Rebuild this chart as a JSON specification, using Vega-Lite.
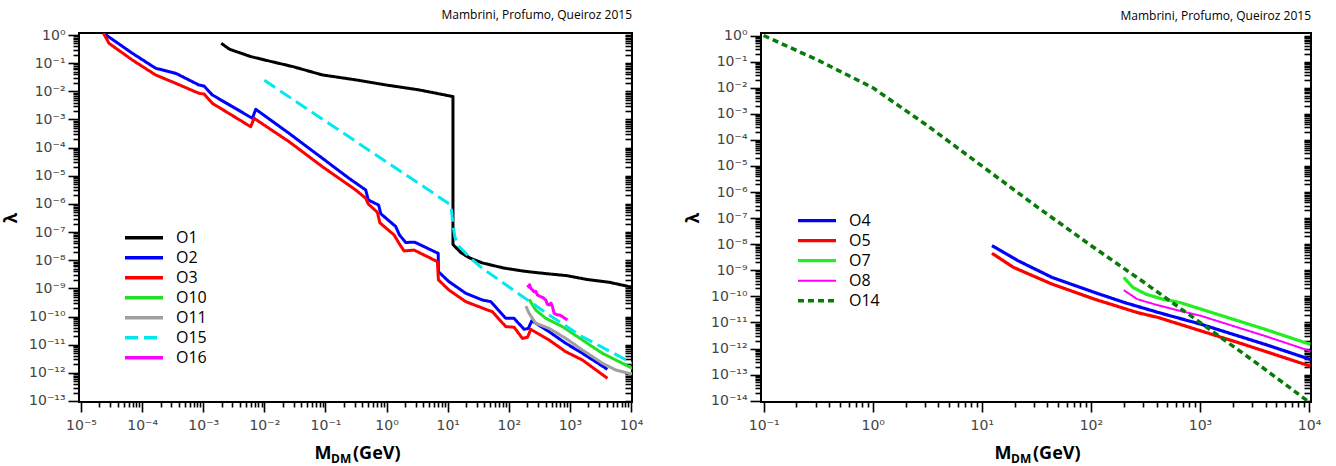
{
  "$schema": "https://vega.github.io/schema/vega-lite/v6.json",
  "background": "white",
  "padding": {"left": 1, "top": 8, "right": 20, "bottom": 2},
  "spacing": 39,
  "config": {
    "view": {"stroke": "#000", "strokeWidth": 2},
    "axis": {"grid": false, "domain": false, "tickSize": 5, "labelFont": "DejaVu Sans", "labelFontSize": 14, "labelColor": "#444", "tickColor": "#000", "tickWidth": 1.6, "tickOpacity": 1, "titleFont": "Open Sans", "titleColor": "#000", "labelFlush": false, "labelOverlap": false},
    "title": {"font": "Open Sans", "fontSize": 12, "fontWeight": "normal", "color": "#000", "anchor": "end", "frame": "group", "offset": 6, "baseline": "alphabetic"}
  },
  "resolve": {"scale": {"color": "independent", "strokeDash": "independent", "strokeWidth": "independent"}},
  "hconcat": [
    {
      "width": 553,
      "height": 369,
      "title": {"text": "Mambrini, Profumo, Queiroz 2015"},
      "data": {"values": [
        {"s":"O1","x":0.00197,"y":0.507,"i":1},
        {"s":"O1","x":0.00271,"y":0.31,"i":2},
        {"s":"O1","x":0.006,"y":0.171,"i":3},
        {"s":"O1","x":0.0132,"y":0.113,"i":4},
        {"s":"O1","x":0.0293,"y":0.0753,"i":5},
        {"s":"O1","x":0.089,"y":0.0382,"i":6},
        {"s":"O1","x":0.316,"y":0.0254,"i":7},
        {"s":"O1","x":0.96,"y":0.0169,"i":8},
        {"s":"O1","x":3.42,"y":0.0112,"i":9},
        {"s":"O1","x":12.2,"y":0.0065,"i":10},
        {"s":"O1","x":12.2,"y":3.6e-8,"i":11},
        {"s":"O1","x":16.7,"y":1.81e-8,"i":12},
        {"s":"O1","x":23.0,"y":1.2e-8,"i":13},
        {"s":"O1","x":37.0,"y":8.0e-9,"i":14},
        {"s":"O1","x":81.7,"y":5.3e-9,"i":15},
        {"s":"O1","x":181,"y":4.05e-9,"i":16},
        {"s":"O1","x":400,"y":3.35e-9,"i":17},
        {"s":"O1","x":883,"y":2.84e-9,"i":18},
        {"s":"O1","x":1954,"y":2.05e-9,"i":19},
        {"s":"O1","x":4325,"y":1.66e-9,"i":20},
        {"s":"O1","x":10300,"y":1.1e-9,"i":21},
        {"s":"O2","x":2.34e-5,"y":1.15,"i":22},
        {"s":"O2","x":6.92e-5,"y":0.224,"i":23},
        {"s":"O2","x":1.67e-4,"y":0.0656,"i":24},
        {"s":"O2","x":3.55e-4,"y":0.0436,"i":25},
        {"s":"O2","x":8.53e-4,"y":0.0167,"i":26},
        {"s":"O2","x":1.03e-3,"y":0.0154,"i":27},
        {"s":"O2","x":1.41e-3,"y":7.4e-3,"i":28},
        {"s":"O2","x":6.37e-3,"y":1.1e-3,"i":29},
        {"s":"O2","x":7.23e-3,"y":2.29e-3,"i":30},
        {"s":"O2","x":0.0254,"y":3.21e-4,"i":31},
        {"s":"O2","x":0.0891,"y":4.17e-5,"i":32},
        {"s":"O2","x":0.243,"y":8.13e-6,"i":33},
        {"s":"O2","x":0.456,"y":3.12e-6,"i":34},
        {"s":"O2","x":0.501,"y":1.38e-6,"i":35},
        {"s":"O2","x":0.741,"y":9.12e-7,"i":36},
        {"s":"O2","x":0.804,"y":4.47e-7,"i":37},
        {"s":"O2","x":1.41,"y":1.58e-7,"i":38},
        {"s":"O2","x":1.62,"y":7.94e-8,"i":39},
        {"s":"O2","x":2.06,"y":4.27e-8,"i":40},
        {"s":"O2","x":2.88,"y":4.37e-8,"i":41},
        {"s":"O2","x":7.0,"y":1.75e-8,"i":42},
        {"s":"O2","x":7.05,"y":3.91e-9,"i":43},
        {"s":"O2","x":10.5,"y":1.73e-9,"i":44},
        {"s":"O2","x":19.8,"y":6.67e-10,"i":45},
        {"s":"O2","x":37.0,"y":3.85e-10,"i":46},
        {"s":"O2","x":50.8,"y":3.37e-10,"i":47},
        {"s":"O2","x":89.3,"y":8.63e-11,"i":48},
        {"s":"O2","x":122,"y":8.63e-11,"i":49},
        {"s":"O2","x":178,"y":3.51e-11,"i":50},
        {"s":"O2","x":209,"y":3.8e-11,"i":51},
        {"s":"O2","x":238,"y":7.1e-11,"i":52},
        {"s":"O2","x":457,"y":2.88e-11,"i":53},
        {"s":"O2","x":855,"y":1.12e-11,"i":54},
        {"s":"O2","x":1603,"y":4.93e-12,"i":55},
        {"s":"O2","x":4111,"y":1.33e-12,"i":56},
        {"s":"O3","x":2.34e-5,"y":1.15,"i":57},
        {"s":"O3","x":2.87e-5,"y":0.506,"i":58},
        {"s":"O3","x":6.92e-5,"y":0.129,"i":59},
        {"s":"O3","x":1.67e-4,"y":0.0379,"i":60},
        {"s":"O3","x":3.55e-4,"y":0.0192,"i":61},
        {"s":"O3","x":8.53e-4,"y":8.47e-3,"i":62},
        {"s":"O3","x":1.03e-3,"y":8.02e-3,"i":63},
        {"s":"O3","x":1.41e-3,"y":3.74e-3,"i":64},
        {"s":"O3","x":5.98e-3,"y":5.53e-4,"i":65},
        {"s":"O3","x":6.79e-3,"y":1.1e-3,"i":66},
        {"s":"O3","x":0.0254,"y":1.62e-4,"i":67},
        {"s":"O3","x":0.0891,"y":2.1e-5,"i":68},
        {"s":"O3","x":0.313,"y":3.12e-6,"i":69},
        {"s":"O3","x":0.456,"y":1.58e-6,"i":70},
        {"s":"O3","x":0.501,"y":1.0e-6,"i":71},
        {"s":"O3","x":0.708,"y":5.01e-7,"i":72},
        {"s":"O3","x":0.776,"y":2.14e-7,"i":73},
        {"s":"O3","x":1.33,"y":7.85e-8,"i":74},
        {"s":"O3","x":1.6,"y":3.98e-8,"i":75},
        {"s":"O3","x":1.93,"y":2.14e-8,"i":76},
        {"s":"O3","x":2.82,"y":2.29e-8,"i":77},
        {"s":"O3","x":6.79,"y":8.91e-9,"i":78},
        {"s":"O3","x":7.05,"y":2.0e-9,"i":79},
        {"s":"O3","x":10.5,"y":8.71e-10,"i":80},
        {"s":"O3","x":19.8,"y":3.37e-10,"i":81},
        {"s":"O3","x":42.0,"y":1.8e-10,"i":82},
        {"s":"O3","x":54.0,"y":1.48e-10,"i":83},
        {"s":"O3","x":89.3,"y":4.37e-11,"i":84},
        {"s":"O3","x":122,"y":4.17e-11,"i":85},
        {"s":"O3","x":167,"y":1.67e-11,"i":86},
        {"s":"O3","x":202,"y":1.82e-11,"i":87},
        {"s":"O3","x":229,"y":3.51e-11,"i":88},
        {"s":"O3","x":457,"y":1.46e-11,"i":89},
        {"s":"O3","x":855,"y":5.62e-12,"i":90},
        {"s":"O3","x":1603,"y":2.85e-12,"i":91},
        {"s":"O3","x":4111,"y":6.38e-13,"i":92},
        {"s":"O10","x":215,"y":4.07e-10,"i":93},
        {"s":"O10","x":276,"y":1.7e-10,"i":94},
        {"s":"O10","x":403,"y":8.63e-11,"i":95},
        {"s":"O10","x":755,"y":4.37e-11,"i":96},
        {"s":"O10","x":1603,"y":1.46e-11,"i":97},
        {"s":"O10","x":3404,"y":4.93e-12,"i":98},
        {"s":"O10","x":10500,"y":1.45e-12,"i":99},
        {"s":"O11","x":190,"y":2.36e-10,"i":100},
        {"s":"O11","x":215,"y":1.3e-10,"i":101},
        {"s":"O11","x":276,"y":5.73e-11,"i":102},
        {"s":"O11","x":457,"y":3.8e-11,"i":103},
        {"s":"O11","x":855,"y":1.67e-11,"i":104},
        {"s":"O11","x":1603,"y":6.46e-12,"i":105},
        {"s":"O11","x":3404,"y":2.19e-12,"i":106},
        {"s":"O11","x":5623,"y":1.26e-12,"i":107},
        {"s":"O11","x":9311,"y":9.55e-13,"i":108},
        {"s":"O11","x":10500,"y":9.3e-13,"i":109},
        {"s":"O15","x":0.01,"y":0.0245,"i":110},
        {"s":"O15","x":11.0,"y":9.55e-7,"i":111},
        {"s":"O15","x":11.5,"y":6.31e-7,"i":112},
        {"s":"O15","x":12.3,"y":1.58e-7,"i":113},
        {"s":"O15","x":13.2,"y":6.31e-8,"i":114},
        {"s":"O15","x":15.5,"y":3.02e-8,"i":115},
        {"s":"O15","x":25.4,"y":1.02e-8,"i":116},
        {"s":"O15","x":37.0,"y":5.13e-9,"i":117},
        {"s":"O15","x":130,"y":7.59e-10,"i":118},
        {"s":"O15","x":457,"y":1.13e-10,"i":119},
        {"s":"O15","x":1603,"y":1.91e-11,"i":120},
        {"s":"O15","x":10500,"y":2.19e-12,"i":121},
        {"s":"O16","x":202,"y":1.32e-9,"i":122},
        {"s":"O16","x":214,"y":1.12e-9,"i":123},
        {"s":"O16","x":219,"y":1.35e-9,"i":124},
        {"s":"O16","x":229,"y":1.0e-9,"i":125},
        {"s":"O16","x":245,"y":8.71e-10,"i":126},
        {"s":"O16","x":259,"y":7.59e-10,"i":127},
        {"s":"O16","x":275,"y":7.94e-10,"i":128},
        {"s":"O16","x":294,"y":5.81e-10,"i":129},
        {"s":"O16","x":333,"y":5.06e-10,"i":130},
        {"s":"O16","x":363,"y":4.68e-10,"i":131},
        {"s":"O16","x":403,"y":3.85e-10,"i":132},
        {"s":"O16","x":427,"y":2.75e-10,"i":133},
        {"s":"O16","x":457,"y":2.57e-10,"i":134},
        {"s":"O16","x":490,"y":3.02e-10,"i":135},
        {"s":"O16","x":518,"y":2.24e-10,"i":136},
        {"s":"O16","x":551,"y":1.3e-10,"i":137},
        {"s":"O16","x":625,"y":1.13e-10,"i":138},
        {"s":"O16","x":692,"y":1.12e-10,"i":139},
        {"s":"O16","x":755,"y":9.86e-11,"i":140},
        {"s":"O16","x":910,"y":7.52e-11,"i":141}
      ]},
      "resolve": {"axis": {"x": "independent", "y": "independent"}},
      "layer": [
        {
          "mark": {"type": "line", "clip": true, "strokeWidth": 3, "strokeJoin": "round"},
          "encoding": {
            "x": {"field": "x", "type": "quantitative", "scale": {"type": "log", "domain": [9.27e-6, 10370], "nice": false},
              "axis": {"orient": "bottom",
                "values": [0.00001,2e-5,3e-5,4e-5,5e-5,6e-5,7e-5,8e-5,9e-5,0.0001,2e-4,3e-4,4e-4,5e-4,6e-4,7e-4,8e-4,9e-4,0.001,2e-3,3e-3,4e-3,5e-3,6e-3,7e-3,8e-3,9e-3,0.01,0.02,0.03,0.04,0.05,0.06,0.07,0.08,0.09,0.1,0.2,0.3,0.4,0.5,0.6,0.7,0.8,0.9,1,2,3,4,5,6,7,8,9,10,20,30,40,50,60,70,80,90,100,200,300,400,500,600,700,800,900,1000,2000,3000,4000,5000,6000,7000,8000,9000,10000],
                "tickSize": {"condition": {"test": "abs(log(datum.value)/LN10 - round(log(datum.value)/LN10)) < 0.001", "value": 10}, "value": 5},
                "labelPadding": 6,
                "labelExpr": "abs(log(datum.value)/LN10 - round(log(datum.value)/LN10)) < 0.001 ? '10' + (datum.value < 0.5 ? '⁻' : '') + (abs(round(log(datum.value)/LN10)) >= 10 ? '¹' : '') + ['⁰','¹','²','³','⁴','⁵','⁶','⁷','⁸','⁹'][abs(round(log(datum.value)/LN10)) % 10] : ''",
                "title": "M", "titleFontSize": 18, "titleFontWeight": "bold", "titleX": 235, "titleY": 56, "titleAlign": "left", "titleBaseline": "alphabetic"}},
            "y": {"field": "y", "type": "quantitative", "scale": {"type": "log", "domain": [9.2e-14, 1.178], "nice": false},
              "axis": {"orient": "left",
                "values": [1,0.9,0.8,0.7,0.6,0.5,0.4,0.3,0.2,0.1,0.09,0.08,0.07,0.06,0.05,0.04,0.03,0.02,0.01,9e-3,8e-3,7e-3,6e-3,5e-3,4e-3,3e-3,2e-3,0.001,9e-4,8e-4,7e-4,6e-4,5e-4,4e-4,3e-4,2e-4,0.0001,9e-5,8e-5,7e-5,6e-5,5e-5,4e-5,3e-5,2e-5,1e-5,9e-6,8e-6,7e-6,6e-6,5e-6,4e-6,3e-6,2e-6,1e-6,9e-7,8e-7,7e-7,6e-7,5e-7,4e-7,3e-7,2e-7,1e-7,9e-8,8e-8,7e-8,6e-8,5e-8,4e-8,3e-8,2e-8,1e-8,9e-9,8e-9,7e-9,6e-9,5e-9,4e-9,3e-9,2e-9,1e-9,9e-10,8e-10,7e-10,6e-10,5e-10,4e-10,3e-10,2e-10,1e-10,9e-11,8e-11,7e-11,6e-11,5e-11,4e-11,3e-11,2e-11,1e-11,9e-12,8e-12,7e-12,6e-12,5e-12,4e-12,3e-12,2e-12,1e-12,9e-13,8e-13,7e-13,6e-13,5e-13,4e-13,3e-13,2e-13,1e-13],
                "tickSize": {"condition": {"test": "abs(log(datum.value)/LN10 - round(log(datum.value)/LN10)) < 0.001", "value": 11}, "value": 6},
                "labelPadding": 3,
                "labelExpr": "abs(log(datum.value)/LN10 - round(log(datum.value)/LN10)) < 0.001 ? '10' + (datum.value < 0.5 ? '⁻' : '') + (abs(round(log(datum.value)/LN10)) >= 10 ? '¹' : '') + ['⁰','¹','²','³','⁴','⁵','⁶','⁷','⁸','⁹'][abs(round(log(datum.value)/LN10)) % 10] : ''",
                "title": "λ", "titleFontSize": 17, "titleFontWeight": "bold", "titlePadding": 8}},
            "color": {"field": "s", "type": "nominal",
              "scale": {"domain": ["O1","O2","O3","O10","O11","O15","O16"], "range": ["#000000","#0000ff","#ff0000","#22e022","#a0a0a0","#00e8f0","#ff00ff"]},
              "legend": {"title": null, "orient": "none", "legendX": 44, "legendY": 195, "symbolType": "stroke", "symbolSize": 1444, "symbolStrokeWidth": 3.5, "labelFont": "Open Sans", "labelFontSize": 16, "labelColor": "#000", "labelOffset": 11, "clipHeight": 19.5, "rowPadding": 0, "padding": 0}},
            "strokeDash": {"field": "s", "type": "nominal",
              "scale": {"domain": ["O1","O2","O3","O10","O11","O15","O16"], "range": [[1,0],[1,0],[1,0],[1,0],[1,0],[13,6],[1,0]]},
              "legend": {"title": null, "orient": "none", "legendX": 44, "legendY": 195, "symbolType": "stroke", "symbolSize": 1444, "symbolStrokeWidth": 3.5, "labelFont": "Open Sans", "labelFontSize": 16, "labelColor": "#000", "labelOffset": 11, "clipHeight": 19.5, "rowPadding": 0, "padding": 0}},
            "order": {"field": "i", "type": "quantitative"}
          }
        },
        {
          "mark": {"type": "point", "opacity": 0},
          "encoding": {
            "x": {"field": "x", "type": "quantitative", "scale": {"type": "log", "domain": [9.27e-6, 10370], "nice": false},
              "axis": {"orient": "bottom", "ticks": false, "labels": false, "values": [1],
                "title": "DM", "titleFontSize": 12, "titleFontWeight": "bold", "titleX": 251.5, "titleY": 60, "titleAlign": "left", "titleBaseline": "alphabetic"}},
            "y": {"field": "y", "type": "quantitative", "scale": {"type": "log", "domain": [9.2e-14, 1.178], "nice": false},
              "axis": {"orient": "right", "offset": -7, "tickSize": 7, "labelExpr": "''", "title": null,
                "values": [1,0.9,0.8,0.7,0.6,0.5,0.4,0.3,0.2,0.1,0.09,0.08,0.07,0.06,0.05,0.04,0.03,0.02,0.01,9e-3,8e-3,7e-3,6e-3,5e-3,4e-3,3e-3,2e-3,0.001,9e-4,8e-4,7e-4,6e-4,5e-4,4e-4,3e-4,2e-4,0.0001,9e-5,8e-5,7e-5,6e-5,5e-5,4e-5,3e-5,2e-5,1e-5,9e-6,8e-6,7e-6,6e-6,5e-6,4e-6,3e-6,2e-6,1e-6,9e-7,8e-7,7e-7,6e-7,5e-7,4e-7,3e-7,2e-7,1e-7,9e-8,8e-8,7e-8,6e-8,5e-8,4e-8,3e-8,2e-8,1e-8,9e-9,8e-9,7e-9,6e-9,5e-9,4e-9,3e-9,2e-9,1e-9,9e-10,8e-10,7e-10,6e-10,5e-10,4e-10,3e-10,2e-10,1e-10,9e-11,8e-11,7e-11,6e-11,5e-11,4e-11,3e-11,2e-11,1e-11,9e-12,8e-12,7e-12,6e-12,5e-12,4e-12,3e-12,2e-12,1e-12,9e-13,8e-13,7e-13,6e-13,5e-13,4e-13,3e-13,2e-13,1e-13]}}
          }
        },
        {
          "mark": {"type": "point", "opacity": 0},
          "encoding": {
            "x": {"field": "x", "type": "quantitative", "scale": {"type": "log", "domain": [9.27e-6, 10370], "nice": false},
              "axis": {"orient": "bottom", "ticks": false, "labels": false, "values": [1], "title": "(GeV)", "titleFontSize": 18, "titleFontWeight": "bold", "titleX": 273.5, "titleY": 56, "titleAlign": "left", "titleBaseline": "alphabetic"}},
            "y": {"field": "y", "type": "quantitative", "scale": {"type": "log", "domain": [9.2e-14, 1.178], "nice": false}, "axis": null}
          }
        }
      ]
    },
    {
      "width": 550,
      "height": 369,
      "title": {"text": "Mambrini, Profumo, Queiroz 2015"},
      "data": {"values": [
        {"s":"O4","x":12.4,"y":8.85e-9,"i":1},
        {"s":"O4","x":17.9,"y":3.65e-9,"i":2},
        {"s":"O4","x":21.4,"y":2.34e-9,"i":3},
        {"s":"O4","x":44.0,"y":5.33e-10,"i":4},
        {"s":"O4","x":108,"y":1.41e-10,"i":5},
        {"s":"O4","x":203,"y":5.81e-11,"i":6},
        {"s":"O4","x":417,"y":2.39e-11,"i":7},
        {"s":"O4","x":1026,"y":8.49e-12,"i":8},
        {"s":"O4","x":2523,"y":2.6e-12,"i":9},
        {"s":"O4","x":3954,"y":1.44e-12,"i":10},
        {"s":"O4","x":10300,"y":3.8e-13,"i":11},
        {"s":"O5","x":12.4,"y":4.49e-9,"i":12},
        {"s":"O5","x":19.5,"y":1.29e-9,"i":13},
        {"s":"O5","x":44.0,"y":2.95e-10,"i":14},
        {"s":"O5","x":108,"y":7.8e-11,"i":15},
        {"s":"O5","x":266,"y":2.39e-11,"i":16},
        {"s":"O5","x":417,"y":1.53e-11,"i":17},
        {"s":"O5","x":1026,"y":4.7e-12,"i":18},
        {"s":"O5","x":2523,"y":1.44e-12,"i":19},
        {"s":"O5","x":10300,"y":2.1e-13,"i":20},
        {"s":"O7","x":200,"y":5.33e-10,"i":21},
        {"s":"O7","x":243,"y":2.2e-10,"i":22},
        {"s":"O7","x":318,"y":1.22e-10,"i":23},
        {"s":"O7","x":456,"y":7.8e-11,"i":24},
        {"s":"O7","x":653,"y":5.81e-11,"i":25},
        {"s":"O7","x":1026,"y":3.21e-11,"i":26},
        {"s":"O7","x":1607,"y":1.78e-11,"i":27},
        {"s":"O7","x":3954,"y":5.45e-12,"i":28},
        {"s":"O7","x":10300,"y":1.44e-12,"i":29},
        {"s":"O8","x":200,"y":1.73e-10,"i":30},
        {"s":"O8","x":266,"y":7.8e-11,"i":31},
        {"s":"O8","x":381,"y":5.01e-11,"i":32},
        {"s":"O8","x":653,"y":2.77e-11,"i":33},
        {"s":"O8","x":1026,"y":1.78e-11,"i":34},
        {"s":"O8","x":1607,"y":9.84e-12,"i":35},
        {"s":"O8","x":3954,"y":3.02e-12,"i":36},
        {"s":"O8","x":10300,"y":7.96e-13,"i":37},
        {"s":"O14","x":0.1,"y":1.0,"i":38},
        {"s":"O14","x":0.316,"y":0.112,"i":39},
        {"s":"O14","x":1,"y":0.01,"i":40},
        {"s":"O14","x":3.16,"y":3.55e-4,"i":41},
        {"s":"O14","x":10,"y":1.0e-5,"i":42},
        {"s":"O14","x":31.6,"y":2.82e-7,"i":43},
        {"s":"O14","x":100,"y":8.91e-9,"i":44},
        {"s":"O14","x":316,"y":3.16e-10,"i":45},
        {"s":"O14","x":1000,"y":1.0e-11,"i":46},
        {"s":"O14","x":3162,"y":3.16e-13,"i":47},
        {"s":"O14","x":10000,"y":8.9e-15,"i":48}
      ]},
      "resolve": {"axis": {"x": "independent", "y": "independent"}},
      "layer": [
        {
          "mark": {"type": "line", "clip": true, "strokeJoin": "round"},
          "encoding": {
            "x": {"field": "x", "type": "quantitative", "scale": {"type": "log", "domain": [0.0946, 10420], "nice": false},
              "axis": {"orient": "bottom",
                "values": [0.1,0.2,0.3,0.4,0.5,0.6,0.7,0.8,0.9,1,2,3,4,5,6,7,8,9,10,20,30,40,50,60,70,80,90,100,200,300,400,500,600,700,800,900,1000,2000,3000,4000,5000,6000,7000,8000,9000,10000],
                "tickSize": {"condition": {"test": "abs(log(datum.value)/LN10 - round(log(datum.value)/LN10)) < 0.001", "value": 10}, "value": 5},
                "labelPadding": 6,
                "labelExpr": "abs(log(datum.value)/LN10 - round(log(datum.value)/LN10)) < 0.001 ? '10' + (datum.value < 0.5 ? '⁻' : '') + (abs(round(log(datum.value)/LN10)) >= 10 ? '¹' : '') + ['⁰','¹','²','³','⁴','⁵','⁶','⁷','⁸','⁹'][abs(round(log(datum.value)/LN10)) % 10] : ''",
                "title": "M", "titleFontSize": 18, "titleFontWeight": "bold", "titleX": 233, "titleY": 56, "titleAlign": "left", "titleBaseline": "alphabetic"}},
            "y": {"field": "y", "type": "quantitative", "scale": {"type": "log", "domain": [8.9e-15, 1.247], "nice": false},
              "axis": {"orient": "left",
                "values": [1,0.9,0.8,0.7,0.6,0.5,0.4,0.3,0.2,0.1,0.09,0.08,0.07,0.06,0.05,0.04,0.03,0.02,0.01,9e-3,8e-3,7e-3,6e-3,5e-3,4e-3,3e-3,2e-3,0.001,9e-4,8e-4,7e-4,6e-4,5e-4,4e-4,3e-4,2e-4,0.0001,9e-5,8e-5,7e-5,6e-5,5e-5,4e-5,3e-5,2e-5,1e-5,9e-6,8e-6,7e-6,6e-6,5e-6,4e-6,3e-6,2e-6,1e-6,9e-7,8e-7,7e-7,6e-7,5e-7,4e-7,3e-7,2e-7,1e-7,9e-8,8e-8,7e-8,6e-8,5e-8,4e-8,3e-8,2e-8,1e-8,9e-9,8e-9,7e-9,6e-9,5e-9,4e-9,3e-9,2e-9,1e-9,9e-10,8e-10,7e-10,6e-10,5e-10,4e-10,3e-10,2e-10,1e-10,9e-11,8e-11,7e-11,6e-11,5e-11,4e-11,3e-11,2e-11,1e-11,9e-12,8e-12,7e-12,6e-12,5e-12,4e-12,3e-12,2e-12,1e-12,9e-13,8e-13,7e-13,6e-13,5e-13,4e-13,3e-13,2e-13,1e-13,9e-14,8e-14,7e-14,6e-14,5e-14,4e-14,3e-14,2e-14,1e-14],
                "tickSize": {"condition": {"test": "abs(log(datum.value)/LN10 - round(log(datum.value)/LN10)) < 0.001", "value": 11}, "value": 6},
                "labelPadding": 3,
                "labelExpr": "abs(log(datum.value)/LN10 - round(log(datum.value)/LN10)) < 0.001 ? '10' + (datum.value < 0.5 ? '⁻' : '') + (abs(round(log(datum.value)/LN10)) >= 10 ? '¹' : '') + ['⁰','¹','²','³','⁴','⁵','⁶','⁷','⁸','⁹'][abs(round(log(datum.value)/LN10)) % 10] : ''",
                "title": "λ", "titleFontSize": 17, "titleFontWeight": "bold", "titlePadding": 8}},
            "color": {"field": "s", "type": "nominal",
              "scale": {"domain": ["O4","O5","O7","O8","O14"], "range": ["#0000ff","#ff0000","#22ee22","#ff00ff","#087a08"]},
              "legend": {"title": null, "orient": "none", "legendX": 35, "legendY": 178, "symbolType": "stroke", "symbolSize": 1444, "labelFont": "Open Sans", "labelFontSize": 16, "labelColor": "#000", "labelOffset": 11, "clipHeight": 19.3, "rowPadding": 0, "padding": 0}},
            "strokeDash": {"field": "s", "type": "nominal",
              "scale": {"domain": ["O4","O5","O7","O8","O14"], "range": [[1,0],[1,0],[1,0],[1,0],[6,4]]},
              "legend": {"title": null, "orient": "none", "legendX": 35, "legendY": 178, "symbolType": "stroke", "symbolSize": 1444, "labelFont": "Open Sans", "labelFontSize": 16, "labelColor": "#000", "labelOffset": 11, "clipHeight": 19.3, "rowPadding": 0, "padding": 0}},
            "strokeWidth": {"field": "s", "type": "nominal",
              "scale": {"type": "ordinal", "domain": ["O4","O5","O7","O8","O14"], "range": [3.2,3.2,3.2,2,3.5]},
              "legend": {"title": null, "orient": "none", "legendX": 35, "legendY": 178, "symbolType": "stroke", "symbolSize": 1444, "labelFont": "Open Sans", "labelFontSize": 16, "labelColor": "#000", "labelOffset": 11, "clipHeight": 19.3, "rowPadding": 0, "padding": 0}},
            "order": {"field": "i", "type": "quantitative"}
          }
        },
        {
          "mark": {"type": "point", "opacity": 0},
          "encoding": {
            "x": {"field": "x", "type": "quantitative", "scale": {"type": "log", "domain": [0.0946, 10420], "nice": false},
              "axis": {"orient": "bottom", "ticks": false, "labels": false, "values": [1],
                "title": "DM", "titleFontSize": 12, "titleFontWeight": "bold", "titleX": 249.5, "titleY": 60, "titleAlign": "left", "titleBaseline": "alphabetic"}},
            "y": {"field": "y", "type": "quantitative", "scale": {"type": "log", "domain": [8.9e-15, 1.247], "nice": false},
              "axis": {"orient": "right", "offset": -7, "tickSize": 7, "labelExpr": "''", "title": null,
                "values": [1,0.9,0.8,0.7,0.6,0.5,0.4,0.3,0.2,0.1,0.09,0.08,0.07,0.06,0.05,0.04,0.03,0.02,0.01,9e-3,8e-3,7e-3,6e-3,5e-3,4e-3,3e-3,2e-3,0.001,9e-4,8e-4,7e-4,6e-4,5e-4,4e-4,3e-4,2e-4,0.0001,9e-5,8e-5,7e-5,6e-5,5e-5,4e-5,3e-5,2e-5,1e-5,9e-6,8e-6,7e-6,6e-6,5e-6,4e-6,3e-6,2e-6,1e-6,9e-7,8e-7,7e-7,6e-7,5e-7,4e-7,3e-7,2e-7,1e-7,9e-8,8e-8,7e-8,6e-8,5e-8,4e-8,3e-8,2e-8,1e-8,9e-9,8e-9,7e-9,6e-9,5e-9,4e-9,3e-9,2e-9,1e-9,9e-10,8e-10,7e-10,6e-10,5e-10,4e-10,3e-10,2e-10,1e-10,9e-11,8e-11,7e-11,6e-11,5e-11,4e-11,3e-11,2e-11,1e-11,9e-12,8e-12,7e-12,6e-12,5e-12,4e-12,3e-12,2e-12,1e-12,9e-13,8e-13,7e-13,6e-13,5e-13,4e-13,3e-13,2e-13,1e-13,9e-14,8e-14,7e-14,6e-14,5e-14,4e-14,3e-14,2e-14,1e-14]}}
          }
        },
        {
          "mark": {"type": "point", "opacity": 0},
          "encoding": {
            "x": {"field": "x", "type": "quantitative", "scale": {"type": "log", "domain": [0.0946, 10420], "nice": false},
              "axis": {"orient": "bottom", "ticks": false, "labels": false, "values": [1], "title": "(GeV)", "titleFontSize": 18, "titleFontWeight": "bold", "titleX": 271.5, "titleY": 56, "titleAlign": "left", "titleBaseline": "alphabetic"}},
            "y": {"field": "y", "type": "quantitative", "scale": {"type": "log", "domain": [8.9e-15, 1.247], "nice": false}, "axis": null}
          }
        }
      ]
    }
  ]
}
